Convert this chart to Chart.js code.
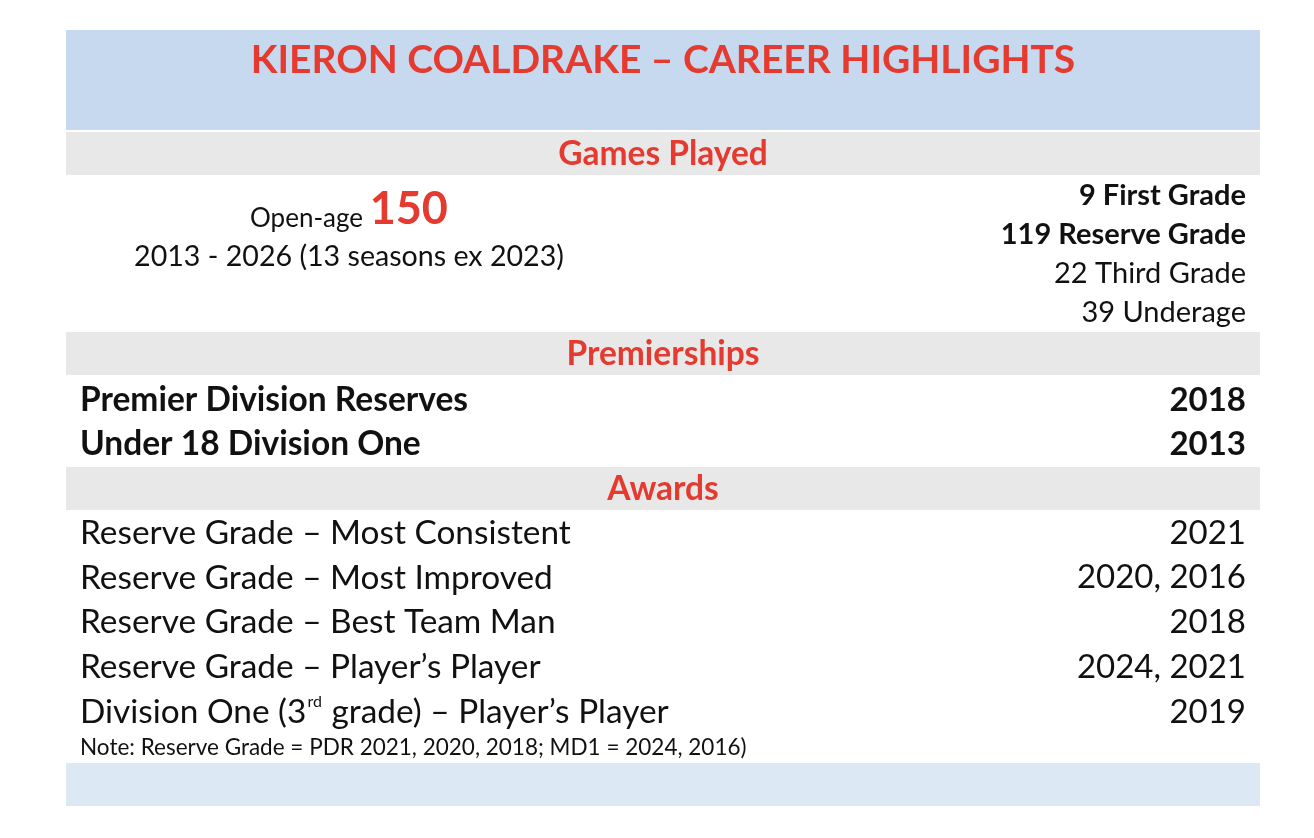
<!DOCTYPE html>
<html><head><meta charset="utf-8">
<script src="https://cdn.jsdelivr.net/npm/chart.js@4"></script>
<style>html,body{margin:0;padding:0;background:#fff}canvas{display:block}</style>
</head><body>
<div style="width:1314px;height:838px"><canvas id="c" width="1314" height="838"></canvas></div>
<script>
const title = "KIERON COALDRAKE – CAREER HIGHLIGHTS";
const sections = ["Games Played", "Premierships", "Awards"];
const openAgeGames = 150;
const seasonsText = "2013 - 2026 (13 seasons ex 2023)";
const gradeLabels = ["First Grade", "Reserve Grade", "Third Grade", "Underage"];
const gradeGames = [9, 119, 22, 39];
const gradeBold = [true, true, false, false];
const premierships = ["Premier Division Reserves", "Under 18 Division One"];
const premYears = ["2018", "2013"];
const awards = ["Reserve Grade – Most Consistent", "Reserve Grade – Most Improved", "Reserve Grade – Best Team Man", "Reserve Grade – Player’s Player", "Division One (3|rd| grade) – Player’s Player"];
const awardYears = ["2021", "2020, 2016", "2018", "2024, 2021", "2019"];
const note = "Note: Reserve Grade = PDR 2021, 2020, 2018; MD1 = 2024, 2016)";

const F = "Lato, 'Open Sans', sans-serif";
const RED = "#e53a2f";
const tablePlugin = {
  id: 'table',
  afterDraw(chart) {
    const ctx = chart.ctx;
    const L = 66, R = 1260, W = R - L, CX = (L + R) / 2;
    ctx.save();
    ctx.textBaseline = 'middle';
    function band(y0, y1, col) { ctx.fillStyle = col; ctx.fillRect(L, y0, W, y1 - y0); }
    function text(s, x, y, size, bold, color, align) {
      ctx.font = (bold ? 'bold ' : '') + size + 'px ' + F;
      ctx.fillStyle = color; ctx.textAlign = align || 'left';
      ctx.fillText(s, x, y);
      return ctx.measureText(s).width;
    }
    band(30, 130, '#c6d9ef');
    text(title, CX, 60, 39, true, RED, 'center');
    const bands = [[132, 175, 154], [332, 375, 354], [467, 510, 489]];
    bands.forEach((b, i) => { band(b[0], b[1], '#e8e8e8'); text(sections[i], CX, b[2], 33.5, true, RED, 'center'); });
    band(763, 806, '#dde8f5');
    ctx.font = '26px ' + F; const w1 = ctx.measureText('Open-age ').width;
    ctx.font = 'bold 45px ' + F; const w2 = ctx.measureText(String(openAgeGames)).width;
    const sx = 349 - (w1 + w2) / 2;
    text('Open-age ', sx, 219, 26, false, '#111');
    text(String(openAgeGames), sx + w1, 209, 45, true, RED);
    text(seasonsText, 349, 257, 28.6, false, '#111', 'center');
    gradeLabels.forEach((g, i) => text(gradeGames[i] + ' ' + g, 1246, 196 + i * 39, 29, gradeBold[i], '#111', 'right'));
    premierships.forEach((p, i) => {
      text(p, 80, 400 + i * 44, 33.5, true, '#111');
      text(premYears[i], 1246, 400 + i * 44, 33, true, '#111', 'right');
    });
    awards.forEach((a, i) => {
      const y = 533 + i * 44.8;
      const parts = a.split('|');
      let x = 80;
      x += text(parts[0], x, y, 33.4, false, '#111');
      if (parts.length > 1) {
        x += text(parts[1], x + 1, y - 10, 16, false, '#111') + 2;
        text(parts[2], x, y, 33.4, false, '#111');
      }
      text(awardYears[i], 1246, y, 33, false, '#111', 'right');
    });
    text(note, 80, 748, 22.5, false, '#111');
    ctx.restore();
  }
};
new Chart(document.getElementById('c'), {
  type: 'bar',
  data: { labels: gradeLabels, datasets: [{ data: [], backgroundColor: 'transparent' }] },
  options: {
    responsive: false, animation: false,
    plugins: { legend: { display: false }, tooltip: { enabled: false } },
    scales: { x: { display: false }, y: { display: false } }
  },
  plugins: [tablePlugin]
});
</script>
</body></html>
